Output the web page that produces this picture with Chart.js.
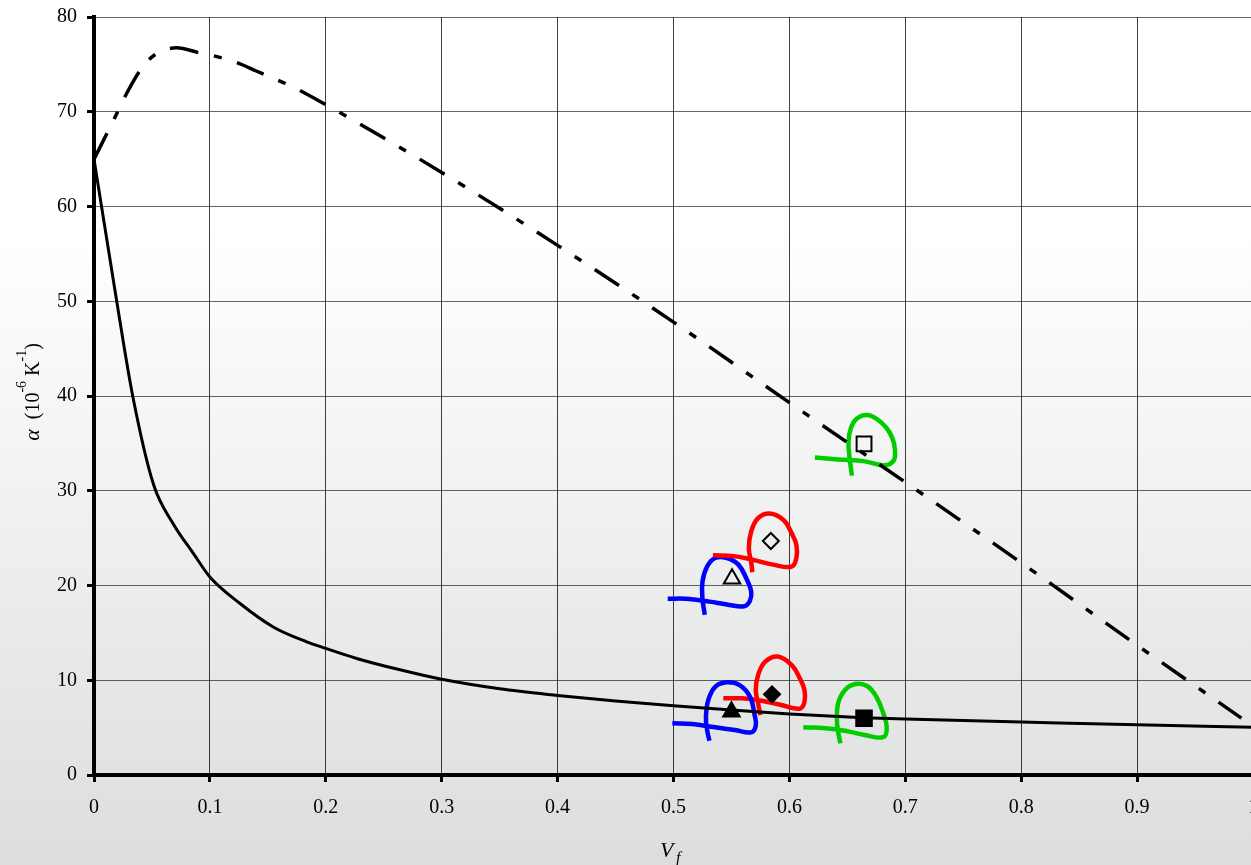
<!DOCTYPE html>
<html>
<head>
<meta charset="utf-8">
<script src="https://cdn.jsdelivr.net/npm/chart.js@4/dist/chart.umd.min.js"></script>
<style>
  html, body { margin: 0; padding: 0; overflow: hidden; }
  body { width: 1251px; height: 865px; background: linear-gradient(to bottom, #ffffff 0%, #ffffff 27%, #dcdede 100%); }
  #wrap { width: 1270px; height: 865px; }
</style>
</head>
<body>
<div id="wrap"><canvas id="chart" width="1270" height="865"></canvas></div>
<script>
// fitted curve (solid)
const fitX = [0, 0.0196, 0.0334, 0.0515, 0.0684, 0.0857, 0.1, 0.126, 0.155, 0.1835, 0.2, 0.2266, 0.264, 0.3, 0.35, 0.4, 0.45, 0.5, 0.55, 0.6, 0.664, 0.7, 0.8, 0.9, 1.0];
const fitY = [65, 50, 40, 30.6, 26.5, 23.4, 20.9, 18.1, 15.6, 14.06, 13.36, 12.3, 11.1, 10.1, 9.1, 8.4, 7.8, 7.3, 6.85, 6.45, 6.05, 5.9, 5.6, 5.3, 5.05];

// upper bound curve (dash-dot)
const boundX = [0, 0.0095, 0.0196, 0.028, 0.04, 0.0512, 0.063, 0.0713, 0.0915, 0.1, 0.123, 0.14, 0.172, 0.2008, 0.2209, 0.3, 0.4, 0.5, 0.6, 0.7, 0.8, 0.9, 0.99];
const boundY = [65, 67.3, 69.8, 71.9, 74.4, 75.9, 76.6, 76.75, 76.2, 76.0, 75.2, 74.3, 72.6, 70.7, 69.3, 63.6, 55.9, 47.8, 39.3, 30.9, 22.4, 13.7, 6.0];

// measured points
const openSquare = [0.6644, 34.95];
const openDiamond = [0.584, 24.7];
const openTriangle = [0.5505, 20.7];
const fullTriangle = [0.550, 6.68];
const fullDiamond = [0.585, 8.51];
const fullSquare = [0.6644, 5.98];

// hand-drawn loops [x, y]
const loopGreenTop = [[0.622, 33.5], [0.642, 33.3], [0.665, 33.1], [0.682, 32.7], [0.690, 33.2], [0.691, 34.4], [0.689, 35.5], [0.684, 36.6], [0.675, 37.6], [0.667, 38.0], [0.658, 37.6], [0.653, 36.6], [0.651, 35.2], [0.652, 33.4], [0.654, 31.6]];
const loopRedTop = [[0.534, 23.2], [0.552, 23.1], [0.569, 22.7], [0.586, 22.2], [0.602, 22.0], [0.606, 22.9], [0.606, 24.3], [0.602, 25.5], [0.595, 26.9], [0.583, 27.6], [0.573, 27.1], [0.567, 25.7], [0.565, 23.9], [0.567, 22.5], [0.568, 21.4]];
const loopBlueTop = [[0.495, 18.6], [0.511, 18.6], [0.531, 18.3], [0.546, 18.0], [0.561, 17.8], [0.566, 18.4], [0.567, 19.4], [0.563, 20.7], [0.556, 22.2], [0.546, 22.9], [0.536, 22.9], [0.529, 22.0], [0.525, 20.4], [0.525, 18.6], [0.527, 16.9]];
const loopBlueBottom = [[0.499, 5.45], [0.516, 5.38], [0.536, 5.03], [0.553, 4.75], [0.567, 4.5], [0.571, 5.2], [0.570, 6.33], [0.566, 8.26], [0.557, 9.49], [0.546, 9.78], [0.536, 9.31], [0.530, 7.91], [0.528, 6.15], [0.529, 4.75], [0.531, 3.62]];
const loopRedBottom = [[0.543, 8.09], [0.559, 8.09], [0.576, 7.84], [0.593, 7.38], [0.609, 7.0], [0.613, 7.7], [0.613, 8.97], [0.609, 10.2], [0.602, 11.6], [0.590, 12.5], [0.579, 11.95], [0.573, 10.55], [0.571, 8.97], [0.573, 7.56], [0.575, 6.33]];
const loopGreenBottom = [[0.612, 5.03], [0.631, 4.93], [0.648, 4.67], [0.665, 4.22], [0.681, 4.0], [0.684, 5.0], [0.681, 6.51], [0.675, 8.26], [0.667, 9.39], [0.657, 9.60], [0.648, 8.97], [0.642, 7.56], [0.641, 5.80], [0.642, 4.57], [0.644, 3.34]];

const xTicksMin = 0, xTicksMax = 1, xStep = 0.1;
const yTicksMin = 0, yTicksMax = 80, yStep = 10;

const serif = "'Liberation Serif', 'Times New Roman', serif";
const toPts = arr => arr.map(p => ({ x: p[0], y: p[1] }));
const zipPts = (xs, ys) => xs.map((x, i) => ({ x: x, y: ys[i] }));

const loop = (pts, color) => ({
    data: toPts(pts),
    showLine: true,
    borderColor: color,
    borderWidth: 4.5,
    tension: 0.4,
    pointRadius: 0,
    fill: false,
    order: 3
});

const marker = (p, style, r, filled) => ({
    data: toPts([p]),
    pointStyle: style,
    pointRadius: r,
    pointBorderColor: '#000',
    pointBackgroundColor: filled ? '#000' : 'rgba(0,0,0,0)',
    pointBorderWidth: 2,
    showLine: false,
    order: 0
});

// axis titles with super/subscripts
const axisTitles = {
    id: 'axisTitles',
    afterDraw(chart) {
        const ctx = chart.ctx;
        ctx.save();
        ctx.fillStyle = '#000';
        ctx.textBaseline = 'alphabetic';
        // x title: V_f
        ctx.font = `italic 22px ${serif}`;
        ctx.textAlign = 'left';
        ctx.fillText('V', 660, 857);
        ctx.font = `italic 16px ${serif}`;
        ctx.fillText('f', 676, 863);

        // y title: α (10^-6 K^-1)
        const runs = [
            { t: 'α', f: `italic 22px ${serif}`, dy: 0 },
            { t: '  (10', f: `20px ${serif}`, dy: 0 },
            { t: '-6', f: `14px ${serif}`, dy: -13 },
            { t: ' K', f: `20px ${serif}`, dy: 0 },
            { t: '-1', f: `14px ${serif}`, dy: -13 },
            { t: ')', f: `20px ${serif}`, dy: 0 }
        ];
        let total = 0;
        runs.forEach(r => { ctx.font = r.f; r.w = ctx.measureText(r.t).width; total += r.w; });
        ctx.translate(39, 392);
        ctx.rotate(-Math.PI / 2);
        let x = -total / 2;
        runs.forEach(r => {
            ctx.font = r.f;
            ctx.fillText(r.t, x, r.dy);
            x += r.w;
        });
        ctx.restore();
    }
};

new Chart(document.getElementById('chart'), {
    type: 'scatter',
    data: {
        datasets: [
            marker(openSquare, 'rect', 10.5, false),
            marker(openDiamond, 'rectRot', 8, false),
            marker(openTriangle, 'triangle', 9.5, false),
            marker(fullTriangle, 'triangle', 9.5, true),
            marker(fullDiamond, 'rectRot', 8, true),
            marker(fullSquare, 'rect', 11, true),
            {
                data: zipPts(fitX, fitY),
                showLine: true,
                borderColor: '#000',
                borderWidth: 3,
                cubicInterpolationMode: 'monotone',
                pointRadius: 0,
                order: 1
            },
            {
                data: zipPts(boundX, boundY),
                showLine: true,
                borderColor: '#000',
                borderWidth: 3.5,
                borderDash: [29, 16, 8, 16],
                cubicInterpolationMode: 'monotone',
                pointRadius: 0,
                order: 2
            },
            loop(loopGreenTop, '#00cc00'),
            loop(loopRedTop, '#ff0000'),
            loop(loopBlueTop, '#0000ff'),
            loop(loopBlueBottom, '#0000ff'),
            loop(loopRedBottom, '#ff0000'),
            loop(loopGreenBottom, '#00cc00')
        ]
    },
    options: {
        responsive: false,
        animation: false,
        layout: { padding: { top: 17, right: 17, left: 0, bottom: 0 } },
        plugins: {
            legend: { display: false },
            tooltip: { enabled: false }
        },
        scales: {
            x: {
                type: 'linear',
                min: xTicksMin,
                max: xTicksMax,
                afterFit: s => { s.height = 90; s.paddingLeft = 0; s.paddingRight = 0; },
                ticks: {
                    stepSize: xStep,
                    color: '#000',
                    padding: 14,
                    font: { family: serif, size: 20 },
                    callback: v => String(+v.toFixed(1))
                },
                grid: {
                    color: 'rgba(0,0,0,0.75)',
                    lineWidth: 1,
                    tickColor: '#000',
                    tickWidth: 3,
                    tickLength: 7
                },
                border: { display: true, color: '#000', width: 4 }
            },
            y: {
                min: yTicksMin,
                max: yTicksMax,
                afterFit: s => { s.width = 94; s.paddingTop = 0; s.paddingBottom = 0; },
                ticks: {
                    stepSize: yStep,
                    color: '#000',
                    padding: 10,
                    font: { family: serif, size: 20 }
                },
                grid: {
                    color: 'rgba(0,0,0,0.6)',
                    lineWidth: 1,
                    tickColor: '#000',
                    tickWidth: 3,
                    tickLength: 7
                },
                border: { display: true, color: '#000', width: 4 }
            }
        }
    },
    plugins: [axisTitles]
});
</script>
</body>
</html>
